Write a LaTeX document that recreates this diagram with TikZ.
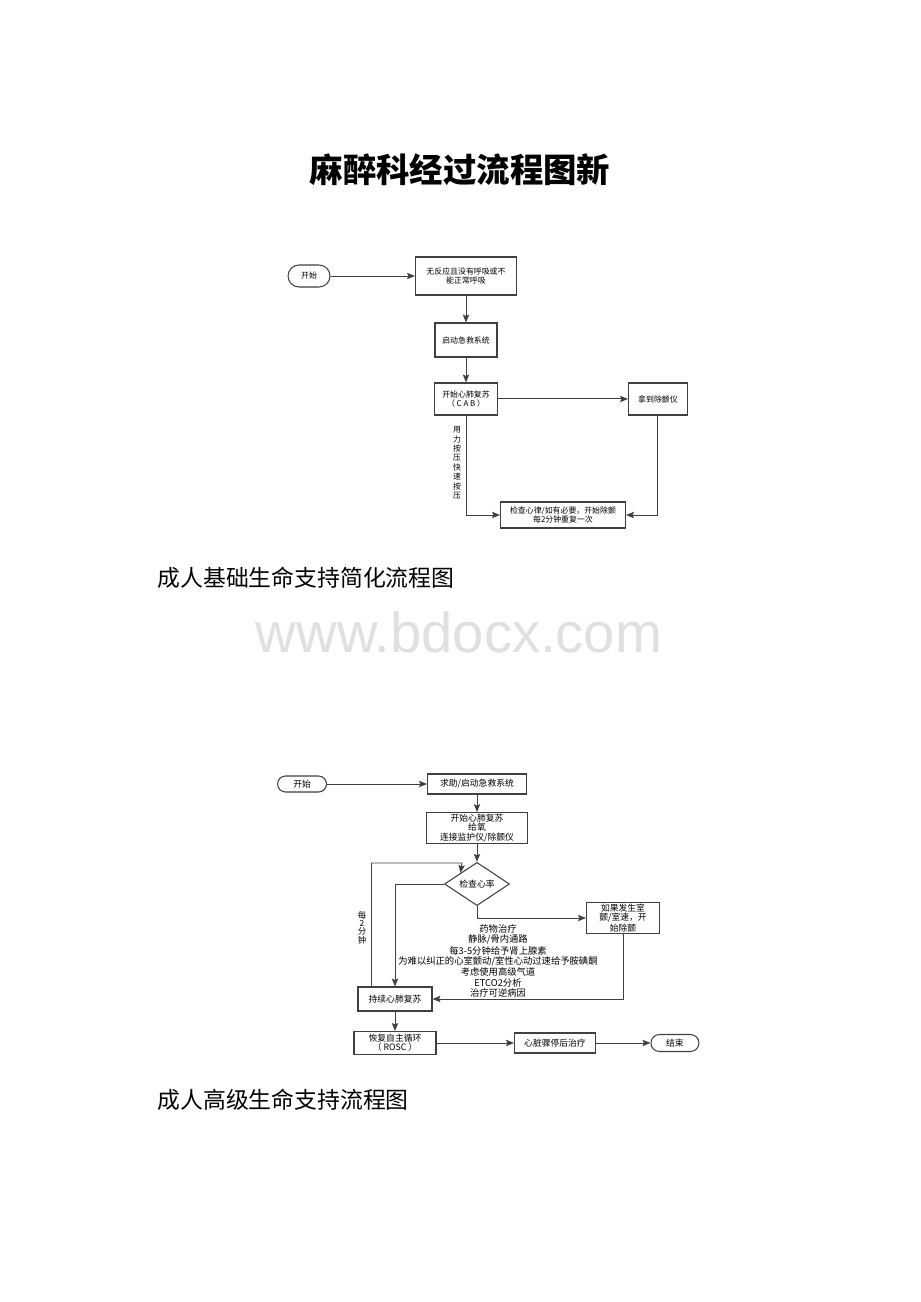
\documentclass[tikz,border=0pt]{standalone}
\usepackage{fontspec}
\setmainfont{Liberation Serif}
\newfontfamily\cjk{Noto Sans CJK SC}
\newfontfamily\markfont{Liberation Sans}
\usepackage{tikz}
\usetikzlibrary{positioning}
\usetikzlibrary{arrows.meta}
\usetikzlibrary{shapes.geometric}
\definecolor{linegray}{rgb}{0.25,0.25,0.25}
\definecolor{markgray}{rgb}{0.88,0.88,0.88}

\begin{document}
\begin{tikzpicture}[
            > = {Stealth[length=4.5pt,width=3.6pt,inset=0.8pt]}, % arrow head style
            x = 0.02cm, y = -0.02cm, % one unit is one pixel of the page
            node distance = 1.2cm, % distance between nodes
            line width = 0.55pt % line style
        ]

        \tikzstyle{box}=[
            draw = linegray,
            fill = white,
            line width = 0.6pt,
            align = center,
            inner sep = 1pt,
            font = \cjk\fontsize{4.5}{5.6}\selectfont
        ]
        \tikzstyle{smallbox}=[box, font = \cjk\fontsize{5}{5.4}\selectfont]
        \tikzstyle{flow}=[->, draw = linegray]

        \useasboundingbox (0,0) rectangle (920,1302);

        % page texts
        \node (title) at (460,170) {\cjk\bfseries\fontsize{19}{22}\selectfont 麻醉科经过流程图新};
        \node[anchor=west, inner sep=0pt] (head1) at (157,578) {\cjk\fontsize{13}{15}\selectfont 成人基础生命支持简化流程图};
        \node[text=markgray] (mark) at (459,632) {\markfont\fontsize{32}{36}\selectfont www.bdocx.com};
        \node[anchor=west, inner sep=0pt] (head2) at (157,1100) {\cjk\fontsize{13}{15}\selectfont 成人高级生命支持流程图};

	% basic life support
        \node[box, minimum width=2.02cm, minimum height=0.76cm] (B1) at (466,276) {无反应且没有呼吸或不\\能正常呼吸};
        \node[box, minimum width=0.84cm, minimum height=0.44cm, rounded corners=0.22cm] (S1) [left of=B1, node distance=3.14cm] {开始};
        \node[box, minimum width=1.24cm, minimum height=0.68cm] (B2) [below of=B1, node distance=1.28cm] {启动急救系统};
        \node[box, minimum width=1.26cm, minimum height=0.64cm] (B3) [below of=B2, node distance=1.18cm] {开始心肺复苏\\（ C A B ）};
        \node[box, minimum width=1.18cm, minimum height=0.64cm] (B4) [right of=B3, node distance=3.84cm] {拿到除颤仪};
        \node[box, minimum width=2.5cm, minimum height=0.52cm] (B5) at (563,515) {检查心律/如有必要，开始除颤\\每2分钟重复一次};
        \node[font=\cjk\fontsize{4.5}{5.4}\selectfont, align=center, inner sep=0pt] (press) at (457,463) {用\\力\\按\\压\\快\\速\\按\\压};

        \draw[flow] (S1) -- (B1);
        \draw[flow] (B1) -- (B2);
        \draw[flow] (B2) -- (B3);
        \draw[flow] (B3) -- (B4);
        \draw[flow] (B3.south) |- (B5.west);
        \draw[flow] (B4.south) |- (B5.east);

        % advanced life support
        \node[smallbox, minimum width=1.98cm, minimum height=0.4cm] (C1) at (477,784) {求助/启动急救系统};
        \node[smallbox, minimum width=0.98cm, minimum height=0.32cm, rounded corners=0.16cm] (S2) [left of=C1, node distance=3.5cm] {开始};
        \node[smallbox, minimum width=2.02cm, minimum height=0.6cm, font=\cjk\fontsize{5}{5.2}\selectfont] (C2) [below of=C1, node distance=0.88cm] {开始心肺复苏\\给氧\\连接监护仪/除颤仪};
        \node[smallbox, diamond, minimum width=1.3cm, minimum height=0.64cm, inner sep=0pt] (CHK) [below of=C2, node distance=1.12cm] {检查心率};
        \node[smallbox, minimum width=1.46cm, minimum height=0.52cm, font=\cjk\fontsize{5}{5}\selectfont] (C3) at (623,918) {如果发生室\\颤/室速，开\\始除颤};
        \node[smallbox, minimum width=1.48cm, minimum height=0.48cm] (C4) at (395,999) {持续心肺复苏};
        \node[smallbox, minimum width=1.64cm, minimum height=0.46cm, font=\cjk\fontsize{5}{5.2}\selectfont] (C5) [below of=C4, node distance=0.88cm] {恢复自主循环\\（ ROSC ）};
        \node[smallbox, minimum width=1.62cm, minimum height=0.4cm] (C6) [right of=C5, node distance=3.2cm] {心脏骤停后治疗};
        \node[smallbox, minimum width=0.96cm, minimum height=0.34cm, rounded corners=0.17cm] (E) [right of=C6, node distance=2.4cm] {结束};

        \node[font=\cjk\fontsize{5.3}{4.6}\selectfont, align=center, inner sep=0pt] (drugs) at (498,961) {药物治疗\\静脉/骨内通路\\每3-5分钟给予肾上腺素\\为难以纠正的心室颤动/室性心动过速给予胺碘酮\\考虑使用高级气道\\ETCO2分析\\治疗可逆病因};
        \node[font=\cjk\fontsize{4.8}{4.3}\selectfont, align=center, inner sep=0pt] (every) at (362,928) {每\\2\\分\\钟};

        \coordinate (loop) at (462,863);

        \draw[flow] (S2) -- (C1);
        \draw[flow] (C1) -- (C2);
        \draw[flow] (C2) -- (CHK);
        \draw[flow] (CHK.south) |- (C3.west);
        \draw[flow] (C3.south) |- (C4.east);
        \draw[flow] (CHK.west) -| (C4.north);
        \draw[flow] (C4.north west) ++(14,0) |- (loop) -- (CHK.north west);
        \draw[flow] (C4) -- (C5);
        \draw[flow] (C5) -- (C6);
        \draw[flow] (C6) -- (E);

\end{tikzpicture}
\end{document}
